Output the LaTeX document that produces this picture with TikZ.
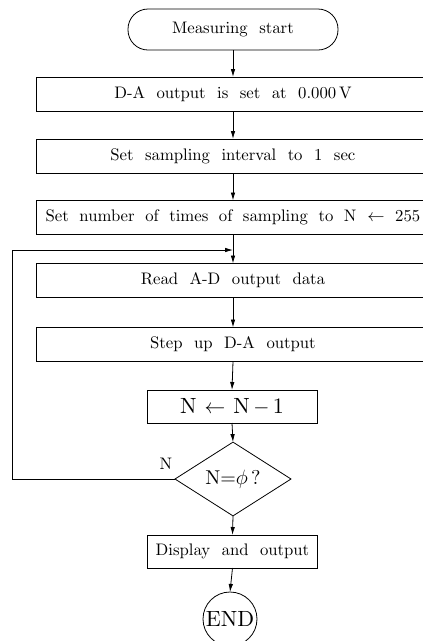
\documentclass[tikz,border=0pt]{standalone}
\usetikzlibrary{shapes.geometric,arrows.meta}
\font\boxrm=cmr10 at 16.7pt
\font\bigrm=cmr10 at 22pt
\font\midrm=cmr10 at 20pt
\begin{document}
\begin{tikzpicture}[x=1pt,y=-1pt,
  every node/.style={inner sep=0pt,outer sep=0pt},
  txt/.style={font={\fontsize{16.7}{19}\selectfont\boxrm\spaceskip=11.5pt plus 1pt\relax}},
  wide/.style={draw,line width=0.8pt,minimum width=394pt,minimum height=34pt,txt},
  small/.style={draw,line width=0.8pt,minimum width=170pt,minimum height=33pt,txt},
  flow/.style={line width=0.8pt,-{Latex[length=8pt,width=4.5pt]}},
  plain/.style={line width=0.8pt}]
\clip (0,0) rectangle (423,641);
\useasboundingbox (0,0) rectangle (423,641);
\node[draw,line width=0.8pt,rounded corners=20pt,minimum width=210pt,minimum height=41pt,txt] (start) at (233,29.5) {Measuring start};
\node[wide] (b1) at (233,94) {D-A output is set at 0.000\,V};
\node[wide] (b2) at (233,156) {Set sampling interval to 1 sec};
\node[wide,font={\fontsize{16.7}{19}\selectfont\boxrm\spaceskip=10.6pt plus 1pt\relax}] (b3) at (233,217.5) {Set number of times of sampling to N $\leftarrow$ 255};
\node[wide] (b4) at (233,280.5) {Read A-D output data};
\node[wide] (b5) at (233,344.5) {Step up D-A output};
\node[small,font=\fontsize{22}{24}\selectfont\bigrm] (b6) at (232,406.5) {N\hspace{8pt}$\leftarrow$\hspace{8pt}N$\,-\,$1};
\node[draw,diamond,line width=0.8pt,minimum width=116pt,minimum height=52pt,font=\fontsize{20}{22}\selectfont\midrm] (dec) at (233,479) {N{=}$\phi$\,?};
\node[small] (b7) at (232.5,551.5) {Display and output};
\node[draw,circle,line width=0.8pt,minimum size=54pt,font=\fontsize{22}{24}\selectfont\bigrm] (endc) at (230,619) {END};
\node[txt] (lab) at (166,464) {N};
\coordinate (j) at (233,250);
\coordinate (l1) at (12,479);
\coordinate (l2) at (12,250);
\draw[flow] (start.south) -- (b1.north);
\draw[flow] (b1.south) -- (b2.north);
\draw[flow] (b2.south) -- (b3.north);
\draw[flow] (b3.south) -- (b4.north);
\draw[flow] (b4.south) -- (b5.north);
\draw[flow] (b5.south) -- (b6.north);
\draw[flow] (b6.south) -- (dec.north);
\draw[flow] (dec.south) -- (b7.north);
\draw[flow] (b7.south) -- (endc.north);
\draw[flow] (dec.west) -- (l1) -- (l2) -- (j);
\end{tikzpicture}
\end{document}
